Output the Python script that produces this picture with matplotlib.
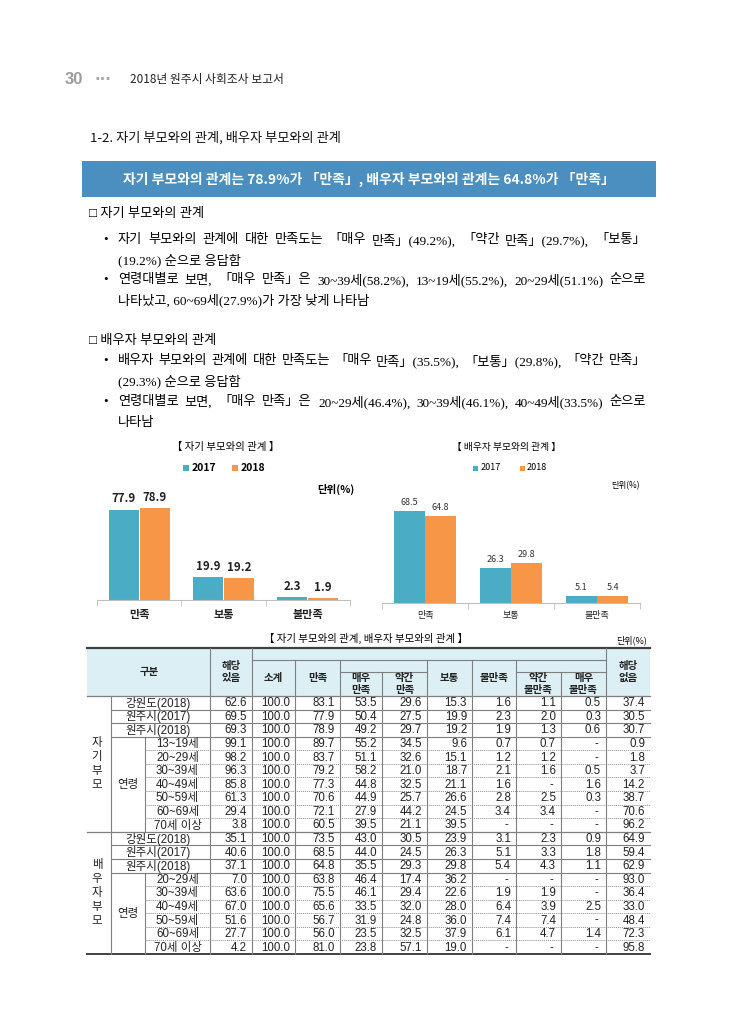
import matplotlib
matplotlib.use('Agg')
from matplotlib import pyplot as plt
from matplotlib import font_manager
from matplotlib.patches import Rectangle
import numpy as np

plt.rcParams['font.family'] = ['Noto Sans CJK KR', 'DejaVu Sans']

# ---- chart data ----
bar_categories = ['만족', '보통', '불만족']
years = ['2017', '2018']
own_2017 = [77.9, 19.9, 2.3]
own_2018 = [78.9, 19.2, 1.9]
spouse_2017 = [68.5, 26.3, 5.1]
spouse_2018 = [64.8, 29.8, 5.4]

# ---- table data ----
table_columns = ['해당\n있음', '소계', '만족', '매우\n만족', '약간\n만족', '보통',
                 '불만족', '약간\n불만족', '매우\n불만족', '해당\n없음']
summary_labels = ['강원도(2018)', '원주시(2017)', '원주시(2018)']
own_age_labels = ['13~19세', '20~29세', '30~39세', '40~49세', '50~59세', '60~69세', '70세 이상']
spouse_age_labels = ['20~29세', '30~39세', '40~49세', '50~59세', '60~69세', '70세 이상']
own_rows = [
    [62.6, 100.0, 83.1, 53.5, 29.6, 15.3, 1.6, 1.1, 0.5, 37.4],
    [69.5, 100.0, 77.9, 50.4, 27.5, 19.9, 2.3, 2.0, 0.3, 30.5],
    [69.3, 100.0, 78.9, 49.2, 29.7, 19.2, 1.9, 1.3, 0.6, 30.7],
    [99.1, 100.0, 89.7, 55.2, 34.5, 9.6, 0.7, 0.7, None, 0.9],
    [98.2, 100.0, 83.7, 51.1, 32.6, 15.1, 1.2, 1.2, None, 1.8],
    [96.3, 100.0, 79.2, 58.2, 21.0, 18.7, 2.1, 1.6, 0.5, 3.7],
    [85.8, 100.0, 77.3, 44.8, 32.5, 21.1, 1.6, None, 1.6, 14.2],
    [61.3, 100.0, 70.6, 44.9, 25.7, 26.6, 2.8, 2.5, 0.3, 38.7],
    [29.4, 100.0, 72.1, 27.9, 44.2, 24.5, 3.4, 3.4, None, 70.6],
    [3.8, 100.0, 60.5, 39.5, 21.1, 39.5, None, None, None, 96.2],
]
spouse_rows = [
    [35.1, 100.0, 73.5, 43.0, 30.5, 23.9, 3.1, 2.3, 0.9, 64.9],
    [40.6, 100.0, 68.5, 44.0, 24.5, 26.3, 5.1, 3.3, 1.8, 59.4],
    [37.1, 100.0, 64.8, 35.5, 29.3, 29.8, 5.4, 4.3, 1.1, 62.9],
    [7.0, 100.0, 63.8, 46.4, 17.4, 36.2, None, None, None, 93.0],
    [63.6, 100.0, 75.5, 46.1, 29.4, 22.6, 1.9, 1.9, None, 36.4],
    [67.0, 100.0, 65.6, 33.5, 32.0, 28.0, 6.4, 3.9, 2.5, 33.0],
    [51.6, 100.0, 56.7, 31.9, 24.8, 36.0, 7.4, 7.4, None, 48.4],
    [27.7, 100.0, 56.0, 23.5, 32.5, 37.9, 6.1, 4.7, 1.4, 72.3],
    [4.2, 100.0, 81.0, 23.8, 57.1, 19.0, None, None, None, 95.8],
]

TEAL = '#4BACC6'
ORANGE = '#F79646'
W, H = 730, 1024

installed = {f.name for f in font_manager.fontManager.ttflist}
NARROW = 'Liberation Sans Narrow' if 'Liberation Sans Narrow' in installed else 'Liberation Sans'
NUM_FONT = [NARROW, 'Noto Sans CJK KR']
BODY_FONT = ['Liberation Serif', 'Noto Sans CJK KR']

fig = plt.figure(figsize=(W / 100, H / 100), dpi=100)
ax = fig.add_axes([0, 0, 1, 1])
ax.set_xlim(0, W)
ax.set_ylim(H, 0)
ax.axis('off')


def px_rect(x0, y0, x1, y1):
    return [x0 / W, 1 - y1 / H, (x1 - x0) / W, (y1 - y0) / H]


def justified(x0, x1, y, s, **kw):
    # spread the words of one line over x0..x1
    renderer = fig.canvas.get_renderer()
    words = s.split(' ')
    texts, widths = [], []
    for w in words:
        t = ax.text(x0, y, w, va='center', **kw)
        texts.append(t)
        widths.append(t.get_window_extent(renderer=renderer).width)
    gap = (x1 - x0 - sum(widths)) / max(len(words) - 1, 1)
    x = x0
    for t, wd in zip(texts, widths):
        t.set_x(x)
        x += wd + gap


# ---- page header ----
ax.text(65, 80, '30', fontsize=12, fontweight='bold', color='#9b9b9b', va='center',
        family=['Liberation Sans'])
ax.text(95, 79, '···', fontsize=11, fontweight='bold', color='#a6a6b0', va='center',
        family=['DejaVu Sans'])
ax.text(130, 80, '2018년 원주시 사회조사 보고서', fontsize=8.5, color='#222222', va='center')
ax.text(90, 138, '1-2. 자기 부모와의 관계, 배우자 부모와의 관계', fontsize=9.5, color='#111111',
        va='center')

ax.add_patch(Rectangle((82, 161), 574, 36, facecolor='#4A8FBF', edgecolor='none'))
ax.text(369, 179, '자기 부모와의 관계는 78.9%가 「만족」, 배우자 부모와의 관계는 64.8%가 「만족」',
        fontsize=10, fontweight='bold', color='white', ha='center', va='center')

# ---- summary text ----
fs = 9.5
ax.text(89, 214, '□ 자기 부모와의 관계', fontsize=fs, va='center', family=BODY_FONT)
ax.text(103, 240, '•', fontsize=fs, va='center', family=BODY_FONT)
justified(118, 646, 240, '자기 부모와의 관계에 대한 만족도는 「매우 만족」(49.2%), 「약간 만족」(29.7%), 「보통」',
          fontsize=fs, family=BODY_FONT)
ax.text(118, 260, '(19.2%) 순으로 응답함', fontsize=fs, va='center', family=BODY_FONT)
ax.text(103, 280, '•', fontsize=fs, va='center', family=BODY_FONT)
justified(118, 646, 280, '연령대별로 보면, 「매우 만족」은 30~39세(58.2%), 13~19세(55.2%), 20~29세(51.1%) 순으로',
          fontsize=fs, family=BODY_FONT)
ax.text(118, 300, '나타났고, 60~69세(27.9%)가 가장 낮게 나타남', fontsize=fs, va='center',
        family=BODY_FONT)

ax.text(89, 341, '□ 배우자 부모와의 관계', fontsize=fs, va='center', family=BODY_FONT)
ax.text(103, 361, '•', fontsize=fs, va='center', family=BODY_FONT)
justified(118, 646, 361, '배우자 부모와의 관계에 대한 만족도는 「매우 만족」(35.5%), 「보통」(29.8%), 「약간 만족」',
          fontsize=fs, family=BODY_FONT)
ax.text(118, 381, '(29.3%) 순으로 응답함', fontsize=fs, va='center', family=BODY_FONT)
ax.text(103, 402, '•', fontsize=fs, va='center', family=BODY_FONT)
justified(118, 646, 402, '연령대별로 보면, 「매우 만족」은 20~29세(46.4%), 30~39세(46.1%), 40~49세(33.5%) 순으로',
          fontsize=fs, family=BODY_FONT)
ax.text(118, 423, '나타남', fontsize=fs, va='center', family=BODY_FONT)


# ---- bar charts ----
def bar_chart(rect, ymax, v17, v18, bold, lab_fs, cat_fs, lab_color):
    bx = fig.add_axes(rect)
    x = np.arange(len(bar_categories))
    b1 = bx.bar(x - 0.183, v17, width=0.355, color=TEAL)
    b2 = bx.bar(x + 0.183, v18, width=0.355, color=ORANGE)
    weight = 'bold' if bold else 'normal'
    for b in (b1, b2):
        bx.bar_label(b, fmt='%.1f', padding=3, fontsize=lab_fs, fontweight=weight, color=lab_color)
    bx.set_xlim(-0.5, len(bar_categories) - 0.5)
    bx.set_ylim(0, ymax)
    bx.set_yticks([])
    for s in ('top', 'left', 'right'):
        bx.spines[s].set_visible(False)
    bx.spines['bottom'].set_color('#bfbfbf')
    bx.set_xticks(x, bar_categories, fontsize=cat_fs, fontweight=weight, color='#222222')
    bx.tick_params(axis='x', which='major', length=0, pad=6)
    bx.set_xticks(np.arange(len(bar_categories) + 1) - 0.5, minor=True)
    bx.tick_params(axis='x', which='minor', length=4, color='#bfbfbf')
    bx.patch.set_alpha(0)
    return bx


bar_chart(px_rect(97, 470, 350, 600), 112, own_2017, own_2018, True, 8.3, 8, '#222222')
bar_chart(px_rect(382, 470, 640, 603), 99, spouse_2017, spouse_2018, False, 6.5, 6.5, '#333333')

ax.text(226, 447, '【 자기 부모와의 관계 】', fontsize=7.5, ha='center', va='center')
ax.add_patch(Rectangle((183, 465), 6, 6, facecolor=TEAL))
ax.text(192, 468, years[0], fontsize=7.5, fontweight='bold', va='center')
ax.add_patch(Rectangle((232, 465), 6, 6, facecolor=ORANGE))
ax.text(241, 468, years[1], fontsize=7.5, fontweight='bold', va='center')
ax.text(354, 489, '단위(%)', fontsize=7.5, fontweight='bold', ha='right', va='center')

ax.text(506, 447, '【 배우자 부모와의 관계 】', fontsize=7, ha='center', va='center')
ax.add_patch(Rectangle((473, 466), 5, 5, facecolor=TEAL))
ax.text(481, 468, years[0], fontsize=6.5, va='center')
ax.add_patch(Rectangle((520, 466), 5, 5, facecolor=ORANGE))
ax.text(527, 468, years[1], fontsize=6.5, va='center')
ax.text(640, 486, '단위(%)', fontsize=6, ha='right', va='center')

# ---- table ----
ax.text(366, 638, '【 자기 부모와의 관계, 배우자 부모와의 관계 】', fontsize=7.5, ha='center', va='center')
ax.text(647, 640, '단위(%)', fontsize=6.5, ha='right', va='center')

L, R = 87, 650
TOP, HB = 648, 696
BOTTOM = 954
c1, c2, c3 = 111, 145, 210
edges = [210, 252, 295, 340, 382, 427, 472, 516, 561, 606, 650]
row_h = (BOTTOM - HB) / (len(own_rows) + len(spouse_rows))
line_c = '#7f7f7f'

ax.add_patch(Rectangle((L, TOP), R - L, HB - TOP, facecolor='#DCEFF4', edgecolor='none'))
ax.plot([L, R], [TOP, TOP], color='#404040', lw=1.6)
ax.plot([L, R], [HB, HB], color=line_c, lw=0.9)
ax.plot([L, R], [BOTTOM, BOTTOM], color='#404040', lw=1.4)

# header grid
ax.plot([252, 606], [660, 660], color=line_c, lw=0.8)
ax.plot([340, 427], [672, 672], color=line_c, lw=0.8)
ax.plot([516, 606], [672, 672], color=line_c, lw=0.8)
for xv in (210, 252, 606):
    ax.plot([xv, xv], [TOP, BOTTOM], color=line_c, lw=0.8)
for xv in (295, 340, 427, 472, 516):
    ax.plot([xv, xv], [660, BOTTOM], color=line_c, lw=0.8)
for xv in (382, 561):
    ax.plot([xv, xv], [672, BOTTOM], color=line_c, lw=0.8)

hdr_kw = dict(fontsize=7.5, fontweight='bold', ha='center', va='center', linespacing=1.15,
              color='#222222')
ax.text((L + c3) / 2 + 1, 672, '구분', **hdr_kw)
for i, name in enumerate(table_columns):
    cx = (edges[i] + edges[i + 1]) / 2
    if i in (0, 9):
        cy = 672
    elif i in (3, 4, 7, 8):
        cy = 684
    else:
        cy = 678
    ax.text(cx, cy, name, **hdr_kw)


def draw_block(y0, rows, age_labels, group_label):
    n = len(rows)
    y_end = y0 + n * row_h
    ax.plot([c1, c1], [y0, y_end], color=line_c, lw=0.8)
    age_top = y0 + len(summary_labels) * row_h
    ax.plot([c2, c2], [age_top, y_end], color=line_c, lw=0.8)
    labels = summary_labels + age_labels
    for r, (lab, vals) in enumerate(zip(labels, rows)):
        yt = y0 + r * row_h
        yc = yt + row_h / 2 + 0.5
        if r < len(summary_labels):
            ax.text((c1 + c3) / 2 - 2, yc, lab, fontsize=8.3, ha='center', va='center',
                    family=NUM_FONT, color='#222222')
            ax.plot([c1, R], [yt + row_h, yt + row_h], color=line_c, lw=0.8)
        else:
            ax.text((c2 + c3) / 2, yc, lab, fontsize=8.3, ha='center', va='center',
                    family=NUM_FONT, color='#222222')
            if r < n - 1:
                ax.plot([c2, R], [yt + row_h, yt + row_h], color='#8f8f8f', lw=0.7,
                        linestyle=(0, (1, 1)))
        for i, v in enumerate(vals):
            xr = edges[i + 1] - 5
            s = '-' if v is None else f'{v:.1f}'
            ax.text(xr if v is not None else xr - 3, yc, s, fontsize=8.3, ha='right',
                    va='center', family=NUM_FONT, color='#222222')
    ax.text(97, (y0 + y_end) / 2, '\n'.join(group_label), fontsize=8.3, ha='center',
            va='center', linespacing=1.1, color='#222222')
    ax.text((c1 + c2) / 2, (age_top + y_end) / 2, '연령', fontsize=8.3, ha='center',
            va='center', color='#222222')
    return y_end


y_mid = draw_block(HB, own_rows, own_age_labels, '자기부모')
ax.plot([L, R], [y_mid, y_mid], color=line_c, lw=0.9)
draw_block(y_mid, spouse_rows, spouse_age_labels, '배우자부모')

fig.savefig('out.png', dpi=100, facecolor='white')
